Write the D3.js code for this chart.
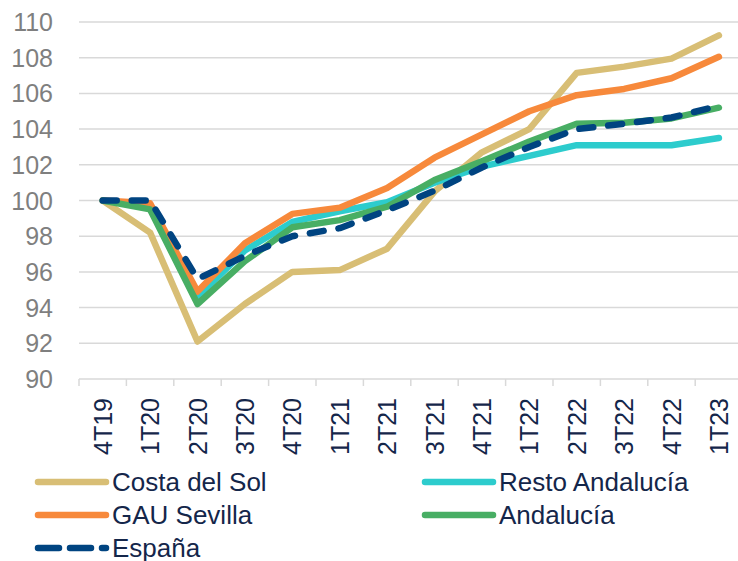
<!DOCTYPE html>
<html lang="es">
<head>
<meta charset="UTF-8">
<title>Índices por zona</title>
<script src="https://cdn.jsdelivr.net/npm/d3@7"></script>
<style>
  body { margin: 0; background: #fff; }
  svg text { font-family: "Liberation Sans", Arial, sans-serif; }
</style>
</head>
<body>
<svg width="738" height="561"></svg>
<script>
const quarters = ["4T19","1T20","2T20","3T20","4T20","1T21","2T21","3T21","4T21","1T22","2T22","3T22","4T22","1T23"];
const yTicks = [90, 92, 94, 96, 98, 100, 102, 104, 106, 108, 110];

const costaDelSol = [100, 98.2, 92.1, 94.2, 96.0, 96.1, 97.3, 100.5, 102.7, 104.0, 107.15, 107.5, 107.95, 109.25];
const restoAndalucia = [100, 99.7, 94.6, 97.2, 98.8, 99.4, 99.9, 101.0, 101.9, 102.5, 103.1, 103.1, 103.1, 103.5];
const gauSevilla = [100, 99.85, 94.9, 97.6, 99.25, 99.6, 100.7, 102.4, 103.7, 105.0, 105.9, 106.25, 106.85, 108.05];
const andalucia = [100, 99.5, 94.2, 96.6, 98.5, 98.9, 99.65, 101.15, 102.2, 103.3, 104.3, 104.35, 104.6, 105.2];
const espana = [100, 100, 95.6, 96.9, 98.0, 98.45, 99.45, 100.55, 101.85, 103.0, 104.0, 104.3, 104.65, 105.3];

// drawing order (later on top)
const series = [
  { name: "Costa del Sol", values: costaDelSol, color: "#D8BE75" },
  { name: "Resto Andalucía", values: restoAndalucia, color: "#2DCCCD" },
  { name: "GAU Sevilla", values: gauSevilla, color: "#F7893B" },
  { name: "Andalucía", values: andalucia, color: "#48AE64" },
  { name: "España", values: espana, color: "#004481", dashed: true }
];

const svg = d3.select("svg");

const x = d3.scaleBand().domain(quarters).range([79, 742.6]);
const y = d3.scaleLinear().domain([90, 110]).range([379, 22]);

// gridlines
svg.append("g")
  .selectAll("line")
  .data(yTicks.slice(1))
  .join("line")
  .attr("x1", 79).attr("x2", 738)
  .attr("y1", d => y(d)).attr("y2", d => y(d))
  .attr("stroke", "#D9D9D9")
  .attr("stroke-width", 1.5);

// y labels
svg.append("g")
  .selectAll("text")
  .data(yTicks)
  .join("text")
  .attr("x", 53)
  .attr("y", d => y(d))
  .attr("dy", "0.36em")
  .attr("text-anchor", "end")
  .attr("font-size", 25)
  .attr("fill", "#7F7F7F")
  .text(d => d);

// x axis
const xAxis = svg.append("g")
  .attr("transform", `translate(0,${y(90)})`)
  .call(d3.axisBottom(x).tickSize(0).tickFormat(""));
xAxis.select(".domain").attr("stroke", "#D9D9D9").attr("stroke-width", 1.5).attr("d", "M79,0H738");

svg.append("g")
  .selectAll("line")
  .data(quarters)
  .join("line")
  .attr("x1", d => x(d)).attr("x2", d => x(d))
  .attr("y1", y(90)).attr("y2", y(90) + 7)
  .attr("stroke", "#D9D9D9")
  .attr("stroke-width", 1.5);

svg.append("g")
  .selectAll("text")
  .data(quarters)
  .join("text")
  .attr("transform", d => `translate(${x(d) + x.bandwidth() / 2},398) rotate(-90)`)
  .attr("text-anchor", "end")
  .attr("dy", "0.36em")
  .attr("font-size", 25)
  .attr("fill", "#14264A")
  .text(d => d);

// lines
const line = d3.line()
  .x((d, i) => x(quarters[i]) + x.bandwidth() / 2)
  .y(d => y(d));

svg.append("g")
  .selectAll("path")
  .data(series)
  .join("path")
  .attr("d", d => line(d.values))
  .attr("fill", "none")
  .attr("stroke", d => d.color)
  .attr("stroke-width", 6.5)
  .attr("stroke-linejoin", "round")
  .attr("stroke-linecap", "round")
  .attr("stroke-dasharray", d => d.dashed ? "14 15" : null);

// legend
const legendPos = [
  { name: "Costa del Sol", x: 35, y: 482 },
  { name: "Resto Andalucía", x: 422, y: 482 },
  { name: "GAU Sevilla", x: 35, y: 515 },
  { name: "Andalucía", x: 422, y: 515 },
  { name: "España", x: 35, y: 548 }
];

const legend = svg.append("g")
  .selectAll("g")
  .data(legendPos)
  .join("g")
  .attr("transform", d => `translate(${d.x},${d.y})`);

legend.append("line")
  .attr("x1", 3).attr("x2", 71)
  .attr("stroke", d => series.find(s => s.name === d.name).color)
  .attr("stroke-width", 6.5)
  .attr("stroke-linecap", "round")
  .attr("stroke-dasharray", d => series.find(s => s.name === d.name).dashed ? "21 11" : null);

legend.append("text")
  .attr("x", 77)
  .attr("dy", "0.36em")
  .attr("font-size", 26)
  .attr("fill", "#14264A")
  .text(d => d.name);
</script>
</body>
</html>
